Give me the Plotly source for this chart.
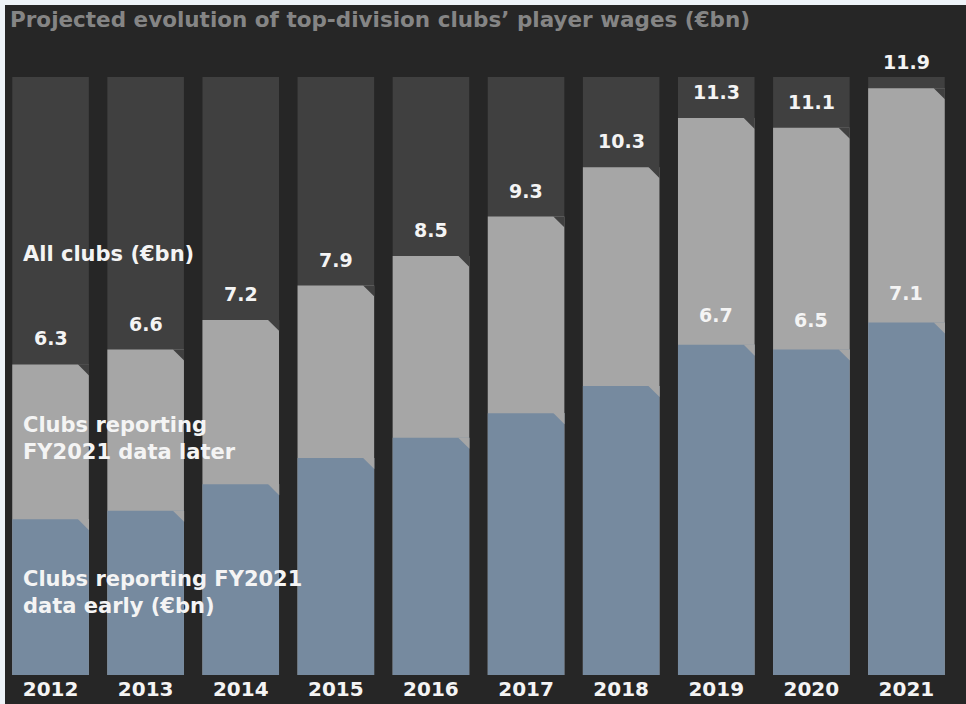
import plotly.graph_objects as go

# ---- data ----
years = ["2012", "2013", "2014", "2015", "2016", "2017", "2018", "2019", "2020", "2021"]
all_clubs = [6.3, 6.6, 7.2, 7.9, 8.5, 9.3, 10.3, 11.3, 11.1, 11.9]
early_clubs = [3.16, 3.33, 3.87, 4.40, 4.81, 5.31, 5.86, 6.7, 6.6, 7.15]
early_labels = [None, None, None, None, None, None, None, "6.7", "6.5", "7.1"]
total_labels = ["6.3", "6.6", "7.2", "7.9", "8.5", "9.3", "10.3", "11.3", "11.1", "11.9"]

# ---- layout constants ----
W, H = 966, 704
ML, MR, MT, MB = 3, 12, 77, 29
Y_MAX = 12.13
BAR_W = 0.805
PW = W - ML - MR
PH = H - MT - MB
PX_X = PW / len(years)      # pixels per x unit
PX_Y = PH / Y_MAX           # pixels per y unit
CUT = 11                    # chamfer leg in px

BG = "#262626"
COL_BG = "#404040"
GREY = "#a6a6a6"
BLUE = "#768a9f"
TXT = "#f4f4f4"
FONT = "DejaVu Sans"

xs = list(range(len(years)))

fig = go.Figure()
fig.add_trace(go.Bar(x=xs, y=[Y_MAX] * len(xs), width=BAR_W, marker=dict(color=COL_BG, line_width=0),
                     hoverinfo="skip", showlegend=False))
fig.add_trace(go.Bar(x=xs, y=all_clubs, width=BAR_W, marker=dict(color=GREY, line_width=0),
                     name="All clubs", showlegend=False))
fig.add_trace(go.Bar(x=xs, y=early_clubs, width=BAR_W, marker=dict(color=BLUE, line_width=0),
                     name="Early", showlegend=False))


def chamfer(values, color):
    cx, cy = [], []
    dx = CUT / PX_X
    dy = CUT / PX_Y
    for x, v in zip(xs, values):
        right = x + BAR_W / 2
        cx += [right - dx, right + 0.002, right + 0.002, None]
        cy += [v + 0.002, v + 0.002, v - dy, None]
    return go.Scatter(x=cx, y=cy, mode="lines", fill="toself", fillcolor=color,
                      line=dict(width=0, color=color), hoverinfo="skip", showlegend=False)


fig.add_trace(chamfer(all_clubs, COL_BG))
fig.add_trace(chamfer(early_clubs, GREY))

val_font = dict(family=FONT, size=19, color=TXT, weight="bold")
annotations = []
for x, v, t in zip(xs, all_clubs, total_labels):
    annotations.append(dict(x=x, y=v, text=t, showarrow=False, yshift=26, yanchor="middle", font=val_font))
for x, v, t in zip(xs, early_clubs, early_labels):
    if t:
        annotations.append(dict(x=x, y=v, text=t, showarrow=False, yshift=30, yanchor="middle", font=val_font))

side_font = dict(family=FONT, size=21, color=TXT, weight="bold")
x_left = -0.5 + (21 - ML) / PX_X
annotations.append(dict(x=x_left, y=(H - MB - 254) / PX_Y, text="All clubs (€bn)", showarrow=False,
                        xanchor="left", yanchor="middle", align="left", font=side_font))
annotations.append(dict(x=x_left, y=(H - MB - 438) / PX_Y, text="Clubs reporting<br>FY2021 data later",
                        showarrow=False, xanchor="left", yanchor="middle", align="left", font=side_font))
annotations.append(dict(x=x_left, y=(H - MB - 592) / PX_Y, text="Clubs reporting FY2021<br>data early (€bn)",
                        showarrow=False, xanchor="left", yanchor="middle", align="left", font=side_font))

shapes = [
    dict(type="rect", xref="paper", yref="paper", x0=-ML / PW - 0.01, x1=1 + MR / PW + 0.01,
         y0=1 + (MT - 5) / PH, y1=1 + MT / PH + 0.01, fillcolor="#eef3f8", line_width=0, layer="above"),
    dict(type="rect", xref="paper", yref="paper", x0=-ML / PW - 0.01, x1=(5 - ML) / PW,
         y0=-MB / PH - 0.01, y1=1 + MT / PH + 0.01, fillcolor="#eef3f8", line_width=0, layer="above"),
]

fig.update_layout(
    width=W, height=H,
    margin=dict(l=ML, r=MR, t=MT, b=MB, pad=0),
    paper_bgcolor=BG, plot_bgcolor=BG,
    barmode="overlay",
    title=dict(text="Projected evolution of top-division clubs’ player wages (€bn)",
               x=10 / W, xanchor="left", xref="container", y=1 - 19 / H, yanchor="middle", yref="container",
               font=dict(family=FONT, size=21.5, color="#858585", weight="bold")),
    xaxis=dict(range=[-0.5, len(years) - 0.5], tickvals=xs, ticktext=years, showgrid=False, zeroline=False,
               showline=False, ticks="", tickfont=dict(family=FONT, size=20, color=TXT, weight="bold")),
    yaxis=dict(range=[0, Y_MAX], visible=False, showgrid=False, zeroline=False),
    annotations=annotations,
    shapes=shapes,
)

fig.write_html("out.html", config={"displayModeBar": False},
               post_script="document.body.style.margin='0px';")
